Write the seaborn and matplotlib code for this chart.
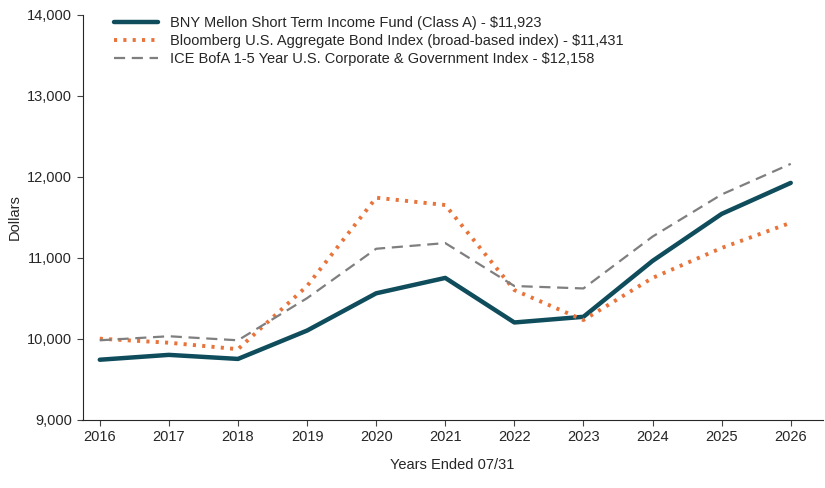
import matplotlib
matplotlib.use("Agg")
import matplotlib.pyplot as plt
import seaborn as sns

years = [2016, 2017, 2018, 2019, 2020, 2021, 2022, 2023, 2024, 2025, 2026]
fund = [9740, 9800, 9750, 10100, 10560, 10750, 10200, 10270, 10960, 11540, 11923]
bloomberg = [10000, 9950, 9870, 10650, 11740, 11650, 10600, 10230, 10750, 11120, 11431]
ice = [9980, 10030, 9980, 10500, 11110, 11180, 10650, 10620, 11260, 11780, 12158]

labels = [
    "BNY Mellon Short Term Income Fund (Class A) - $11,923",
    "Bloomberg U.S. Aggregate Bond Index (broad-based index) - $11,431",
    "ICE BofA 1-5 Year U.S. Corporate & Government Index - $12,158",
]

sns.set_style("ticks")
plt.rcParams["font.family"] = ["Liberation Sans", "DejaVu Sans"]

fig, ax = plt.subplots(figsize=(8.25, 4.88), dpi=100)
sns.lineplot(x=years, y=fund, ax=ax, color="#0f4c5c", linewidth=3.2, label=labels[0])
sns.lineplot(x=years, y=bloomberg, ax=ax, color="#e8743b", linewidth=2.8,
             linestyle=(0, (0.8, 1.6)), label=labels[1])
sns.lineplot(x=years, y=ice, ax=ax, color="#7f7f7f", linewidth=1.6,
             linestyle=(0, (5, 3)), label=labels[2])

ax.set_xlim(2015.75, 2026.46)
ax.set_ylim(9000, 14000)
ax.set_xticks(years)
ax.set_yticks(range(9000, 14001, 1000))
ax.set_yticklabels([f"{v:,}" for v in range(9000, 14001, 1000)])
ax.tick_params(labelsize=10.5, length=4, color="#444444")
ax.set_xlabel("Years Ended 07/31", fontsize=10.5, labelpad=10)
ax.set_ylabel("Dollars", fontsize=10.5)
for s in ("top", "right"):
    ax.spines[s].set_visible(False)
ax.legend(loc="upper left", bbox_to_anchor=(0.025, 1.03), frameon=False,
          fontsize=10.5, handlelength=3, labelspacing=0.3)

fig.subplots_adjust(left=0.1, right=0.997, top=0.97, bottom=0.14)
fig.savefig("out.png", dpi=100)
